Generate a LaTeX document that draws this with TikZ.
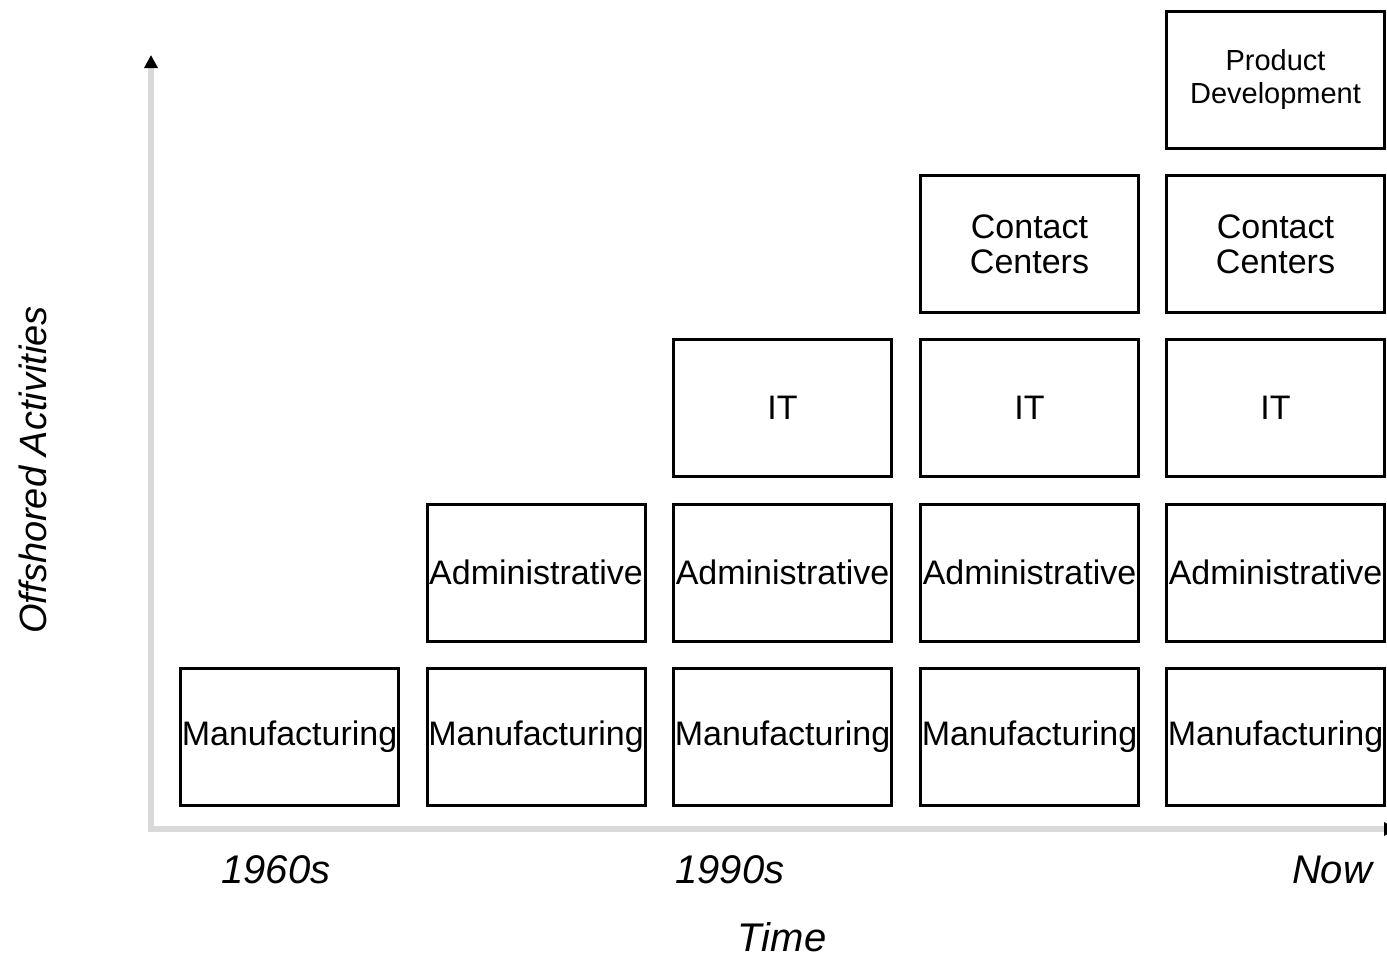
\documentclass[tikz,border=0pt]{standalone}
\usepackage{fontspec}
\setmainfont{Liberation Sans}
\usetikzlibrary{arrows.meta}
\tikzset{
 activity/.style={shape=rectangle,draw=black,line width=3pt,fill=white,minimum width=218pt,minimum height=137pt,inner sep=0pt,align=center,font=\fontsize{34}{35}\selectfont},
 era/.style={font=\fontsize{40}{40}\selectfont\itshape},
 axis/.style={line width=6pt,draw=black!15}
}
\begin{document}
\begin{tikzpicture}[x=1pt,y=-1pt]
 \useasboundingbox (0,0) rectangle (1387,959);
 \coordinate (origin) at (151,829);
 \coordinate (y end) at (151,55);
 \coordinate (x end) at (1397,829);
 \draw[axis,{Triangle[width=13pt,length=13pt,black]}-{Triangle[width=13pt,length=13pt,black]}] (y end) -- (origin) -- (x end);
 % 1960s
 \node (mfg 1) at (289.5,737) [activity] {Manufacturing};
 % second column
 \node (mfg 2) at (536,737) [activity] {Manufacturing};
 \node (adm 2) at (536,572.5) [activity] {Administrative};
 % 1990s
 \node (mfg 3) at (782.5,737) [activity] {Manufacturing};
 \node (adm 3) at (782.5,572.5) [activity] {Administrative};
 \node (it 3) at (782.5,408) [activity] {IT};
 % fourth column
 \node (mfg 4) at (1029.5,737) [activity] {Manufacturing};
 \node (adm 4) at (1029.5,572.5) [activity] {Administrative};
 \node (it 4) at (1029.5,408) [activity] {IT};
 \node (cc 4) at (1029.5,244) [activity] {Contact\\Centers};
 % now
 \node (mfg 5) at (1275.5,737) [activity] {Manufacturing};
 \node (adm 5) at (1275.5,572.5) [activity] {Administrative};
 \node (it 5) at (1275.5,408) [activity] {IT};
 \node (cc 5) at (1275.5,244) [activity] {Contact\\Centers};
 \node (pd 5) at (1275.5,79.5) [activity,font=\fontsize{29}{33}\selectfont] {Product\\Development};
 % axis labels
 \node (t 1960) at (276,870) [era] {1960s};
 \node (t 1990) at (730,870) [era] {1990s};
 \node (t now) at (1332,870) [era] {Now};
 \node (time) at (782,937) [era] {Time};
 \node (offshored) at (33,470) [rotate=90,font=\fontsize{38}{38}\selectfont\itshape] {Offshored Activities};
\end{tikzpicture}
\end{document}
